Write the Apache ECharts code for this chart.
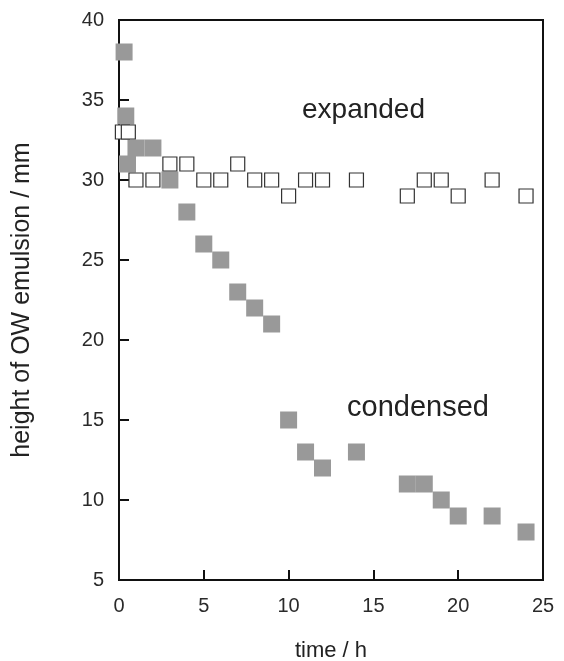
<!DOCTYPE html>
<html>
<head>
<meta charset="utf-8">
<script src="https://cdn.jsdelivr.net/npm/echarts@6/dist/echarts.min.js"></script>
<style>
  html, body { margin: 0; padding: 0; background: #fff; }
  #chart { width: 564px; height: 661px; }
</style>
</head>
<body>
<div id="chart"></div>
<script>
// Height of the O/W emulsion layer over time, two samples.
const condensedTime   = [0.3, 0.4, 0.5, 1, 2, 3, 4, 5, 6, 7, 8, 9, 10, 11, 12, 14, 17, 18, 19, 20, 22, 24];
const condensedHeight = [38, 34, 31, 32, 32, 30, 28, 26, 25, 23, 22, 21, 15, 13, 12, 13, 11, 11, 10, 9, 9, 8];

const expandedTime   = [0.2, 0.55, 1, 2, 3, 4, 5, 6, 7, 8, 9, 10, 11, 12, 14, 17, 18, 19, 20, 22, 24];
const expandedHeight = [33, 33, 30, 30, 31, 31, 30, 30, 31, 30, 30, 29, 30, 30, 30, 29, 30, 30, 29, 30, 29];

const xTicks = [0, 5, 10, 15, 20, 25];
const yTicks = [5, 10, 15, 20, 25, 30, 35, 40];

const seriesNames = ['expanded', 'condensed'];

const pairs = (xs, ys) => xs.map((x, i) => [x, ys[i]]);

const FONT = 'Liberation Sans, Arial, sans-serif';
const chart = echarts.init(document.getElementById('chart'), null, { renderer: 'canvas' });

const axisCommon = {
  axisLine: { show: true, onZero: false, lineStyle: { color: '#111', width: 2 } },
  axisTick: { show: true, inside: true, length: 10, lineStyle: { color: '#111', width: 2 } },
  splitLine: { show: false },
  axisLabel: { color: '#2a2a2a', fontSize: 20, fontFamily: FONT },
  nameTextStyle: { color: '#222', fontFamily: FONT }
};

chart.setOption({
  animation: false,
  backgroundColor: '#fff',
  grid: {
    left: 119, right: 21, top: 20, bottom: 81,
    outerBoundsMode: 'none', containLabel: false,
    show: true, borderColor: '#111', borderWidth: 2, backgroundColor: 'transparent'
  },
  xAxis: Object.assign({}, axisCommon, {
    type: 'value',
    min: xTicks[0], max: xTicks[xTicks.length - 1], interval: 5,
    name: 'time / h', nameLocation: 'middle', nameGap: 60,
    nameTextStyle: { color: '#222', fontFamily: FONT, fontSize: 22 },
    axisLabel: Object.assign({}, axisCommon.axisLabel, { margin: 16 })
  }),
  yAxis: Object.assign({}, axisCommon, {
    type: 'value',
    min: yTicks[0], max: yTicks[yTicks.length - 1], interval: 5,
    name: 'height of OW emulsion / mm', nameLocation: 'middle', nameGap: 84,
    nameTextStyle: { color: '#222', fontFamily: FONT, fontSize: 25 },
    axisLabel: Object.assign({}, axisCommon.axisLabel, { margin: 15 })
  }),
  series: [
    {
      name: seriesNames[1],
      type: 'scatter',
      symbol: 'rect',
      symbolSize: 17,
      itemStyle: { color: '#999999', opacity: 1 },
      data: pairs(condensedTime, condensedHeight),
      z: 2
    },
    {
      name: seriesNames[0],
      type: 'scatter',
      symbol: 'rect',
      symbolSize: 14,
      itemStyle: { color: '#ffffff', borderColor: '#333', borderWidth: 1.2, opacity: 1 },
      data: pairs(expandedTime, expandedHeight),
      z: 3
    }
  ],
  graphic: [
    {
      type: 'text', left: 302, top: 96,
      style: { text: seriesNames[0], font: '28px ' + FONT, fill: '#222' }
    },
    {
      type: 'text', left: 347, top: 393,
      style: { text: seriesNames[1], font: '29px ' + FONT, fill: '#222' }
    }
  ]
});
</script>
</body>
</html>
